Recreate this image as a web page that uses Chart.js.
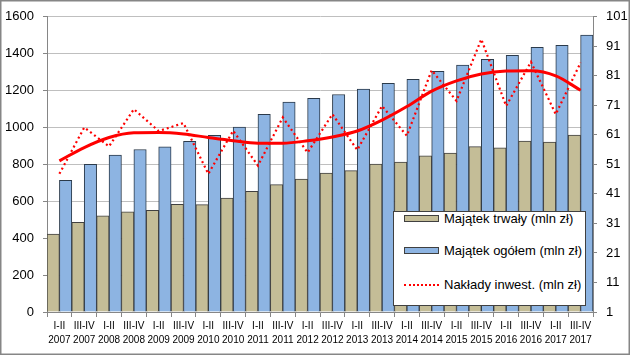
<!DOCTYPE html>
<html><head><meta charset="utf-8">
<script src="https://cdn.jsdelivr.net/npm/chart.js@4"></script>
<style>
html,body{margin:0;padding:0;background:#fff;}
#wrap{position:relative;width:630px;height:355px;}
canvas{display:block;}
#legend{position:absolute;left:393px;top:211px;width:191px;height:93px;border:1px solid #404040;background:#fff;font:13px "Liberation Sans",Arial,sans-serif;color:#000;}
.row{position:absolute;left:10px;height:16px;line-height:16px;white-space:nowrap;}
.sw{display:inline-block;width:33px;height:5px;border:1px solid #404040;vertical-align:middle;margin-right:5px;position:relative;top:-1px;}
.dot{display:inline-block;width:35px;height:0;border-top:2px dotted #ff0000;vertical-align:middle;margin-right:5px;position:relative;top:-1px;}
</style></head>
<body>
<div id="wrap">
<canvas id="c" width="630" height="355"></canvas>
<div id="legend">
  <div class="row" style="top:-1px"><span class="sw" style="background:#C4BD97"></span><span id="l0"></span></div>
  <div class="row" style="top:31px"><span class="sw" style="background:#8DB4E2"></span><span id="l1"></span></div>
  <div class="row" style="top:65px"><span class="dot"></span><span id="l2"></span></div>
</div>
</div>
<script>
const categories = [
  ['I-II','2007'],['III-IV','2007'],['I-II','2008'],['III-IV','2008'],
  ['I-II','2009'],['III-IV','2009'],['I-II','2010'],['III-IV','2010'],
  ['I-II','2011'],['III-IV','2011'],['I-II','2012'],['III-IV','2012'],
  ['I-II','2013'],['III-IV','2013'],['I-II','2014'],['III-IV','2014'],
  ['I-II','2015'],['III-IV','2015'],['I-II','2016'],['III-IV','2016'],
  ['I-II','2017'],['III-IV','2017']
];
const seriesNames = ['Majątek trwały (mln zł)','Majątek ogółem (mln zł)','Nakłady inwest. (mln zł)'];
const majatekTrwaly = [423,486,521,543,551,584,582,618,654,690,721,753,766,802,813,847,861,896,890,926,921,959];
const majatekOgolem = [713,800,850,881,895,925,957,1002,1071,1138,1158,1179,1208,1239,1261,1304,1338,1369,1391,1434,1445,1501];
const nakladyInwest = [47.8,63.5,57.1,69.7,62.3,65.0,47.8,62.4,50.6,66.9,55.0,68.0,55.9,70.8,60.7,82.9,72.5,93.4,70.8,85.7,68.0,85.5];
const nakladyTrend = [52.2,56.7,60.1,61.7,61.8,61.3,60.1,59.0,58.2,58.2,59.0,60.3,62.3,66.0,70.6,75.8,79.3,81.6,82.6,82.7,81.0,76.1];
const leftTicks = [0,200,400,600,800,1000,1200,1400,1600];
const rightTicks = [1,11,21,31,41,51,61,71,81,91,101];

document.getElementById('l0').textContent = seriesNames[0];
document.getElementById('l1').textContent = seriesNames[1];
document.getElementById('l2').textContent = seriesNames[2];

const FONT = '"Liberation Sans", Arial, sans-serif';
const frame = {
  id:'frame',
  afterDraw(chart){
    const ctx = chart.ctx;
    ctx.save();
    ctx.strokeStyle = '#868686';
    ctx.lineWidth = 1.5;
    ctx.strokeRect(0.75,0.75,628.5,353.5);
    ctx.restore();
  }
};

new Chart(document.getElementById('c'), {
  data: {
    labels: categories,
    datasets: [
      { type:'bar', label:seriesNames[0], data:majatekTrwaly, backgroundColor:'#C4BD97', borderColor:'#404040', borderWidth:1, yAxisID:'y', order:2, categoryPercentage:1, barPercentage:1 },
      { type:'bar', label:seriesNames[1], data:majatekOgolem, backgroundColor:'#8DB4E2', borderColor:'#2b3a4a', borderWidth:1, yAxisID:'y', order:2, categoryPercentage:1, barPercentage:1 },
      { type:'line', label:seriesNames[2], data:nakladyInwest, borderColor:'#FF0000', borderWidth:2.2, borderDash:[2,3], pointRadius:0, tension:0, yAxisID:'y1', order:1 },
      { type:'line', label:'trend', data:nakladyTrend, borderColor:'#FF0000', borderWidth:3, pointRadius:0, cubicInterpolationMode:'monotone', yAxisID:'y1', order:0 }
    ]
  },
  options: {
    responsive:false, animation:false,
    layout:{ padding:{ top:16, left:0, right:0, bottom:0 } },
    plugins:{ legend:{ display:false }, tooltip:{ enabled:false } },
    scales:{
      x:{
        offset:true,
        grid:{ display:true, drawOnChartArea:false, drawTicks:true, offset:true, tickLength:5, color:'#868686' },
        border:{ display:true, color:'#868686' },
        ticks:{ font:{ family:FONT, size:10, lineHeight:1.4 }, color:'#000', padding:2, maxRotation:0, autoSkip:false },
        afterFit(s){ s.height = 43; }
      },
      y:{
        position:'left', min:0, max:1600,
        afterBuildTicks(s){ s.ticks = leftTicks.map(v=>({value:v})); },
        grid:{ color:'#BFBFBF', tickLength:4, tickColor:'#868686' },
        border:{ display:true, color:'#868686' },
        ticks:{ font:{ family:FONT, size:13 }, color:'#000', padding:9, callback:(v)=>String(v) },
        afterFit(s){ s.width = 47; }
      },
      y1:{
        position:'right', min:1, max:101,
        afterBuildTicks(s){ s.ticks = rightTicks.map(v=>({value:v})); },
        grid:{ drawOnChartArea:false, tickLength:4, color:'#868686' },
        border:{ display:true, color:'#868686' },
        ticks:{ font:{ family:FONT, size:13 }, color:'#000', padding:9, callback:(v)=>String(v) },
        afterFit(s){ s.width = 37; }
      }
    }
  },
  plugins:[frame]
});
</script>
</body></html>
